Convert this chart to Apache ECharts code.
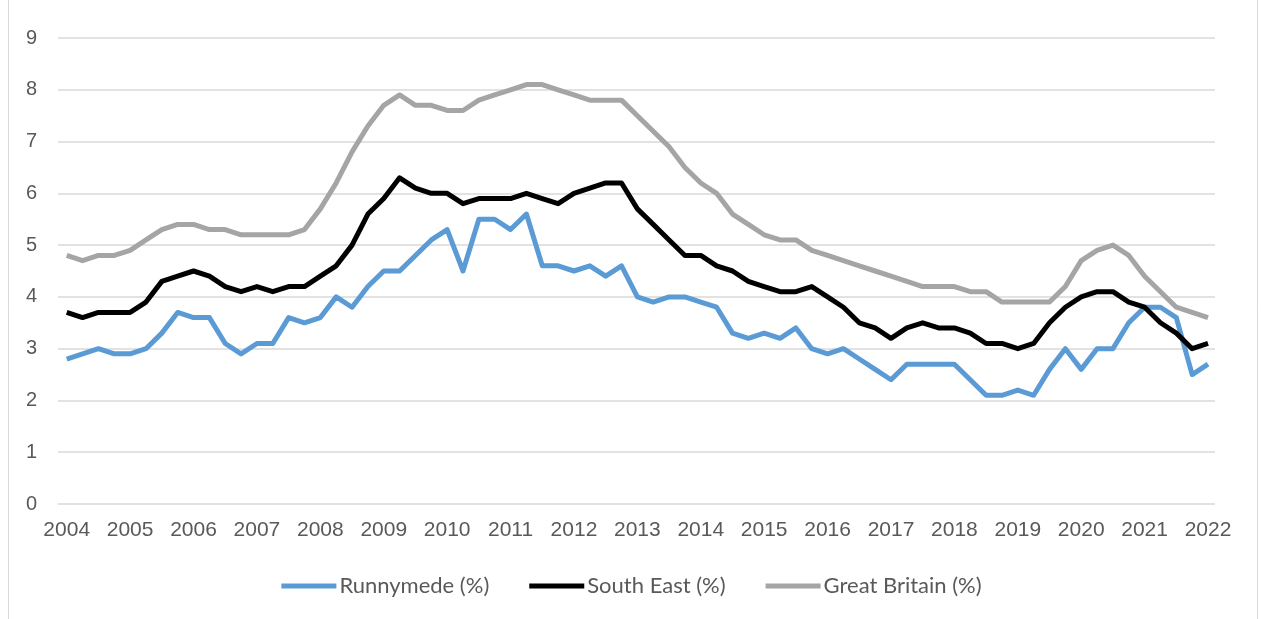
<!DOCTYPE html>
<html>
<head>
<meta charset="utf-8">
<script src="https://cdn.jsdelivr.net/npm/echarts@6/dist/echarts.min.js"></script>
<style>
  html, body { margin: 0; padding: 0; background: #fff; }
  #main { width: 1263px; height: 619px; }
</style>
</head>
<body>
<div id="main"></div>
<script>
// year tick labels, one every 4 quarters
var years = ['2004', '2005', '2006', '2007', '2008', '2009', '2010', '2011', '2012',
    '2013', '2014', '2015', '2016', '2017', '2018', '2019', '2020', '2021', '2022'];

// quarterly values, 2004 Q1 .. 2022 Q1
var runnymede = [
    2.8, 2.9, 3.0, 2.9, 2.9, 3.0, 3.3, 3.7, 3.6, 3.6, 3.1, 2.9,
    3.1, 3.1, 3.6, 3.5, 3.6, 4.0, 3.8, 4.2, 4.5, 4.5, 4.8, 5.1,
    5.3, 4.5, 5.5, 5.5, 5.3, 5.6, 4.6, 4.6, 4.5, 4.6, 4.4, 4.6,
    4.0, 3.9, 4.0, 4.0, 3.9, 3.8, 3.3, 3.2, 3.3, 3.2, 3.4, 3.0,
    2.9, 3.0, 2.8, 2.6, 2.4, 2.7, 2.7, 2.7, 2.7, 2.4, 2.1, 2.1,
    2.2, 2.1, 2.6, 3.0, 2.6, 3.0, 3.0, 3.5, 3.8, 3.8, 3.6, 2.5, 2.7
];
var southEast = [
    3.7, 3.6, 3.7, 3.7, 3.7, 3.9, 4.3, 4.4, 4.5, 4.4, 4.2, 4.1,
    4.2, 4.1, 4.2, 4.2, 4.4, 4.6, 5.0, 5.6, 5.9, 6.3, 6.1, 6.0,
    6.0, 5.8, 5.9, 5.9, 5.9, 6.0, 5.9, 5.8, 6.0, 6.1, 6.2, 6.2,
    5.7, 5.4, 5.1, 4.8, 4.8, 4.6, 4.5, 4.3, 4.2, 4.1, 4.1, 4.2,
    4.0, 3.8, 3.5, 3.4, 3.2, 3.4, 3.5, 3.4, 3.4, 3.3, 3.1, 3.1,
    3.0, 3.1, 3.5, 3.8, 4.0, 4.1, 4.1, 3.9, 3.8, 3.5, 3.3, 3.0, 3.1
];
var greatBritain = [
    4.8, 4.7, 4.8, 4.8, 4.9, 5.1, 5.3, 5.4, 5.4, 5.3, 5.3, 5.2,
    5.2, 5.2, 5.2, 5.3, 5.7, 6.2, 6.8, 7.3, 7.7, 7.9, 7.7, 7.7,
    7.6, 7.6, 7.8, 7.9, 8.0, 8.1, 8.1, 8.0, 7.9, 7.8, 7.8, 7.8,
    7.5, 7.2, 6.9, 6.5, 6.2, 6.0, 5.6, 5.4, 5.2, 5.1, 5.1, 4.9,
    4.8, 4.7, 4.6, 4.5, 4.4, 4.3, 4.2, 4.2, 4.2, 4.1, 4.1, 3.9,
    3.9, 3.9, 3.9, 4.2, 4.7, 4.9, 5.0, 4.8, 4.4, 4.1, 3.8, 3.7, 3.6
];

// x = quarter index
function toPairs(arr) {
    return arr.map(function (v, i) { return [i, v]; });
}
var tickPos = years.map(function (y, i) { return i * 4; });

var chart = echarts.init(document.getElementById('main'));

var option = {
    backgroundColor: '#fff',
    animation: false,
    grid: { left: 58, right: 48, top: 38, bottom: 115 },
    graphic: [{
        type: 'rect',
        shape: { x: 8.5, y: -5, width: 1249, height: 630 },
        style: { fill: 'none', stroke: '#d9d9d9', lineWidth: 1 },
        silent: true
    }],
    legend: {
        top: 570,
        left: 'center',
        icon: 'rect',
        itemWidth: 55,
        itemHeight: 5,
        itemGap: 40,
        textStyle: { fontFamily: 'Lato', fontSize: 22, color: '#595959', padding: [0, 0, 0, -2] },
        data: ['Runnymede (%)', 'South East (%)', 'Great Britain (%)']
    },
    xAxis: {
        type: 'value',
        min: -0.55,
        max: 72.44,
        axisLine: { show: false },
        axisTick: { show: false },
        splitLine: { show: false },
        axisLabel: {
            customValues: tickPos,
            margin: 16,
            fontFamily: 'Liberation Sans',
            fontSize: 21,
            color: '#595959',
            formatter: function (v) { return years[Math.round(v / 4)]; }
        }
    },
    yAxis: {
        type: 'value',
        min: 0,
        max: 9,
        interval: 1,
        axisLine: { show: false },
        axisTick: { show: false },
        splitLine: { lineStyle: { color: '#d9d9d9', width: 1.5 } },
        axisLabel: {
            margin: 21,
            fontFamily: 'Liberation Sans',
            fontSize: 20,
            color: '#595959'
        }
    },
    series: [
        {
            name: 'Runnymede (%)',
            type: 'line',
            symbol: 'none',
            color: '#5b9bd5',
            lineStyle: { width: 5, color: '#5b9bd5', join: 'round' },
            data: toPairs(runnymede)
        },
        {
            name: 'South East (%)',
            type: 'line',
            symbol: 'none',
            color: '#000000',
            lineStyle: { width: 5, color: '#000000', join: 'round' },
            data: toPairs(southEast)
        },
        {
            name: 'Great Britain (%)',
            type: 'line',
            symbol: 'none',
            color: '#a5a5a5',
            lineStyle: { width: 5, color: '#a5a5a5', join: 'round' },
            data: toPairs(greatBritain)
        }
    ]
};

chart.setOption(option);
</script>
</body>
</html>
